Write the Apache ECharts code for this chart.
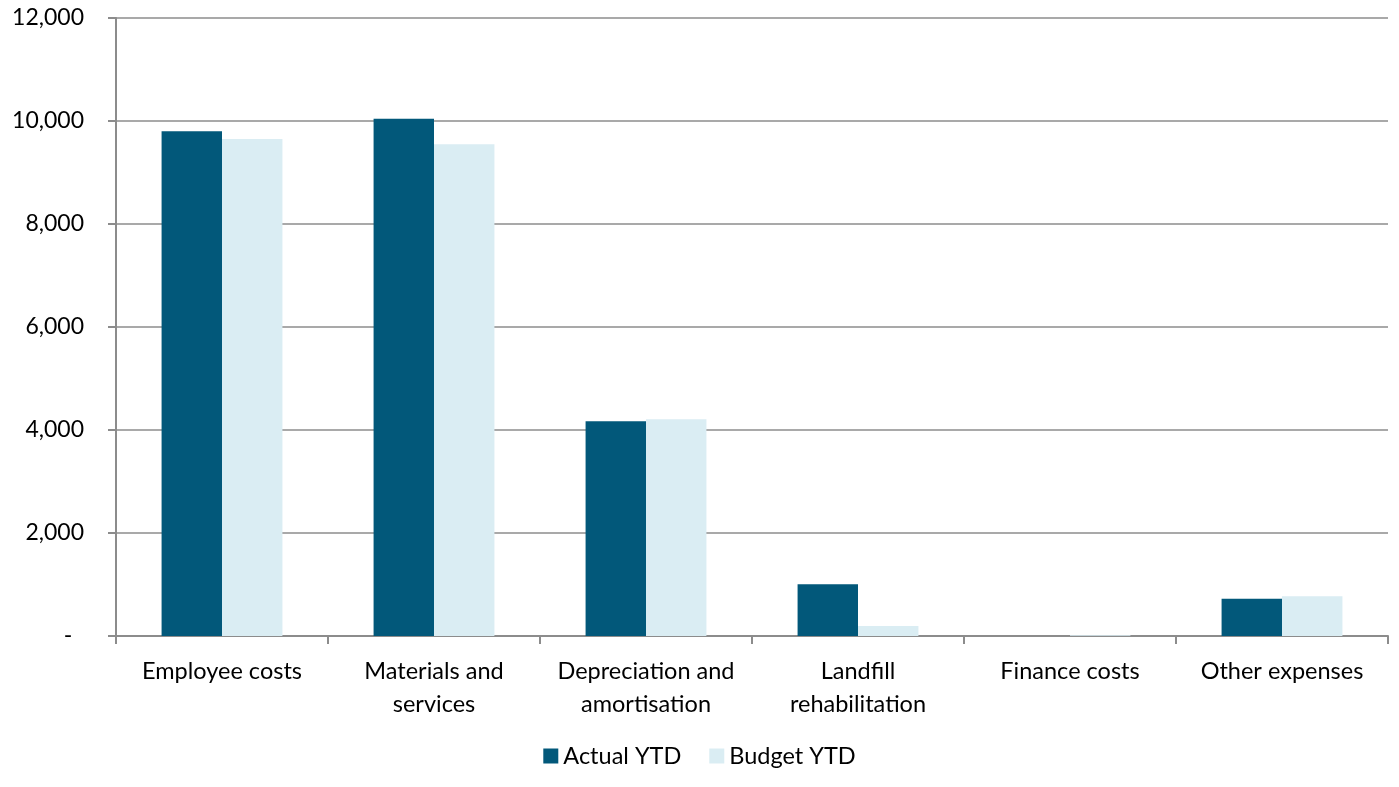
<!DOCTYPE html>
<html>
<head>
<meta charset="utf-8">
<script src="https://cdn.jsdelivr.net/npm/echarts@6/dist/echarts.min.js"></script>
<style>
  html, body { margin: 0; padding: 0; background: #fff; }
  #chart { width: 1399px; height: 787px; }
</style>
</head>
<body>
<div id="chart"></div>
<script>
// Expense categories (year to date)
const categories = [
  'Employee costs',
  'Materials and\nservices',
  'Depreciation and\namortisation',
  'Landfill\nrehabilitation',
  'Finance costs',
  'Other expenses'
];
const actualYTD = [9800, 10045, 4172, 1003, 0, 724];
const budgetYTD = [9650, 9550, 4211, 194, 15, 770];
const yTicks = [0, 2000, 4000, 6000, 8000, 10000, 12000];

const FONT = 'Lato, "Noto Sans", sans-serif';
const axisGray = '#8c8c8c';

const chart = echarts.init(document.getElementById('chart'), null, { renderer: 'canvas' });

chart.setOption({
  animation: false,
  textStyle: { fontFamily: FONT },
  grid: { left: 116, right: 11, top: 18, bottom: 151, containLabel: false },
  legend: {
    bottom: 14,
    left: 'center',
    itemWidth: 15,
    itemHeight: 15,
    itemGap: 28,
    icon: 'rect',
    textStyle: { fontFamily: FONT, fontSize: 23.5, color: '#000' },
    data: ['Actual YTD', 'Budget YTD']
  },
  xAxis: {
    type: 'category',
    data: categories,
    axisLine: { lineStyle: { color: axisGray, width: 2 } },
    axisTick: { show: true, length: 8, alignWithLabel: false, lineStyle: { color: axisGray, width: 2 } },
    axisLabel: {
      interval: 0,
      margin: 19,
      color: '#000',
      fontFamily: FONT,
      fontSize: 23.5,
      lineHeight: 33
    }
  },
  yAxis: {
    type: 'value',
    min: yTicks[0],
    max: yTicks[yTicks.length - 1],
    interval: 2000,
    axisLine: { show: true, lineStyle: { color: axisGray, width: 2 } },
    axisTick: { show: true, length: 8, inside: false, lineStyle: { color: axisGray, width: 2 } },
    splitLine: { lineStyle: { color: axisGray, width: 1.5 } },
    axisLabel: {
      margin: 32,
      color: '#000',
      fontFamily: FONT,
      fontSize: 23,
      formatter: v => v === 0 ? '-  ' : v.toLocaleString('en-US')
    }
  },
  series: [
    {
      name: 'Actual YTD',
      type: 'bar',
      data: actualYTD,
      barGap: '0%',
      barCategoryGap: '43%',
      itemStyle: { color: '#02587A' }
    },
    {
      name: 'Budget YTD',
      type: 'bar',
      data: budgetYTD,
      itemStyle: { color: '#DAEDF3' }
    }
  ]
});
</script>
</body>
</html>
